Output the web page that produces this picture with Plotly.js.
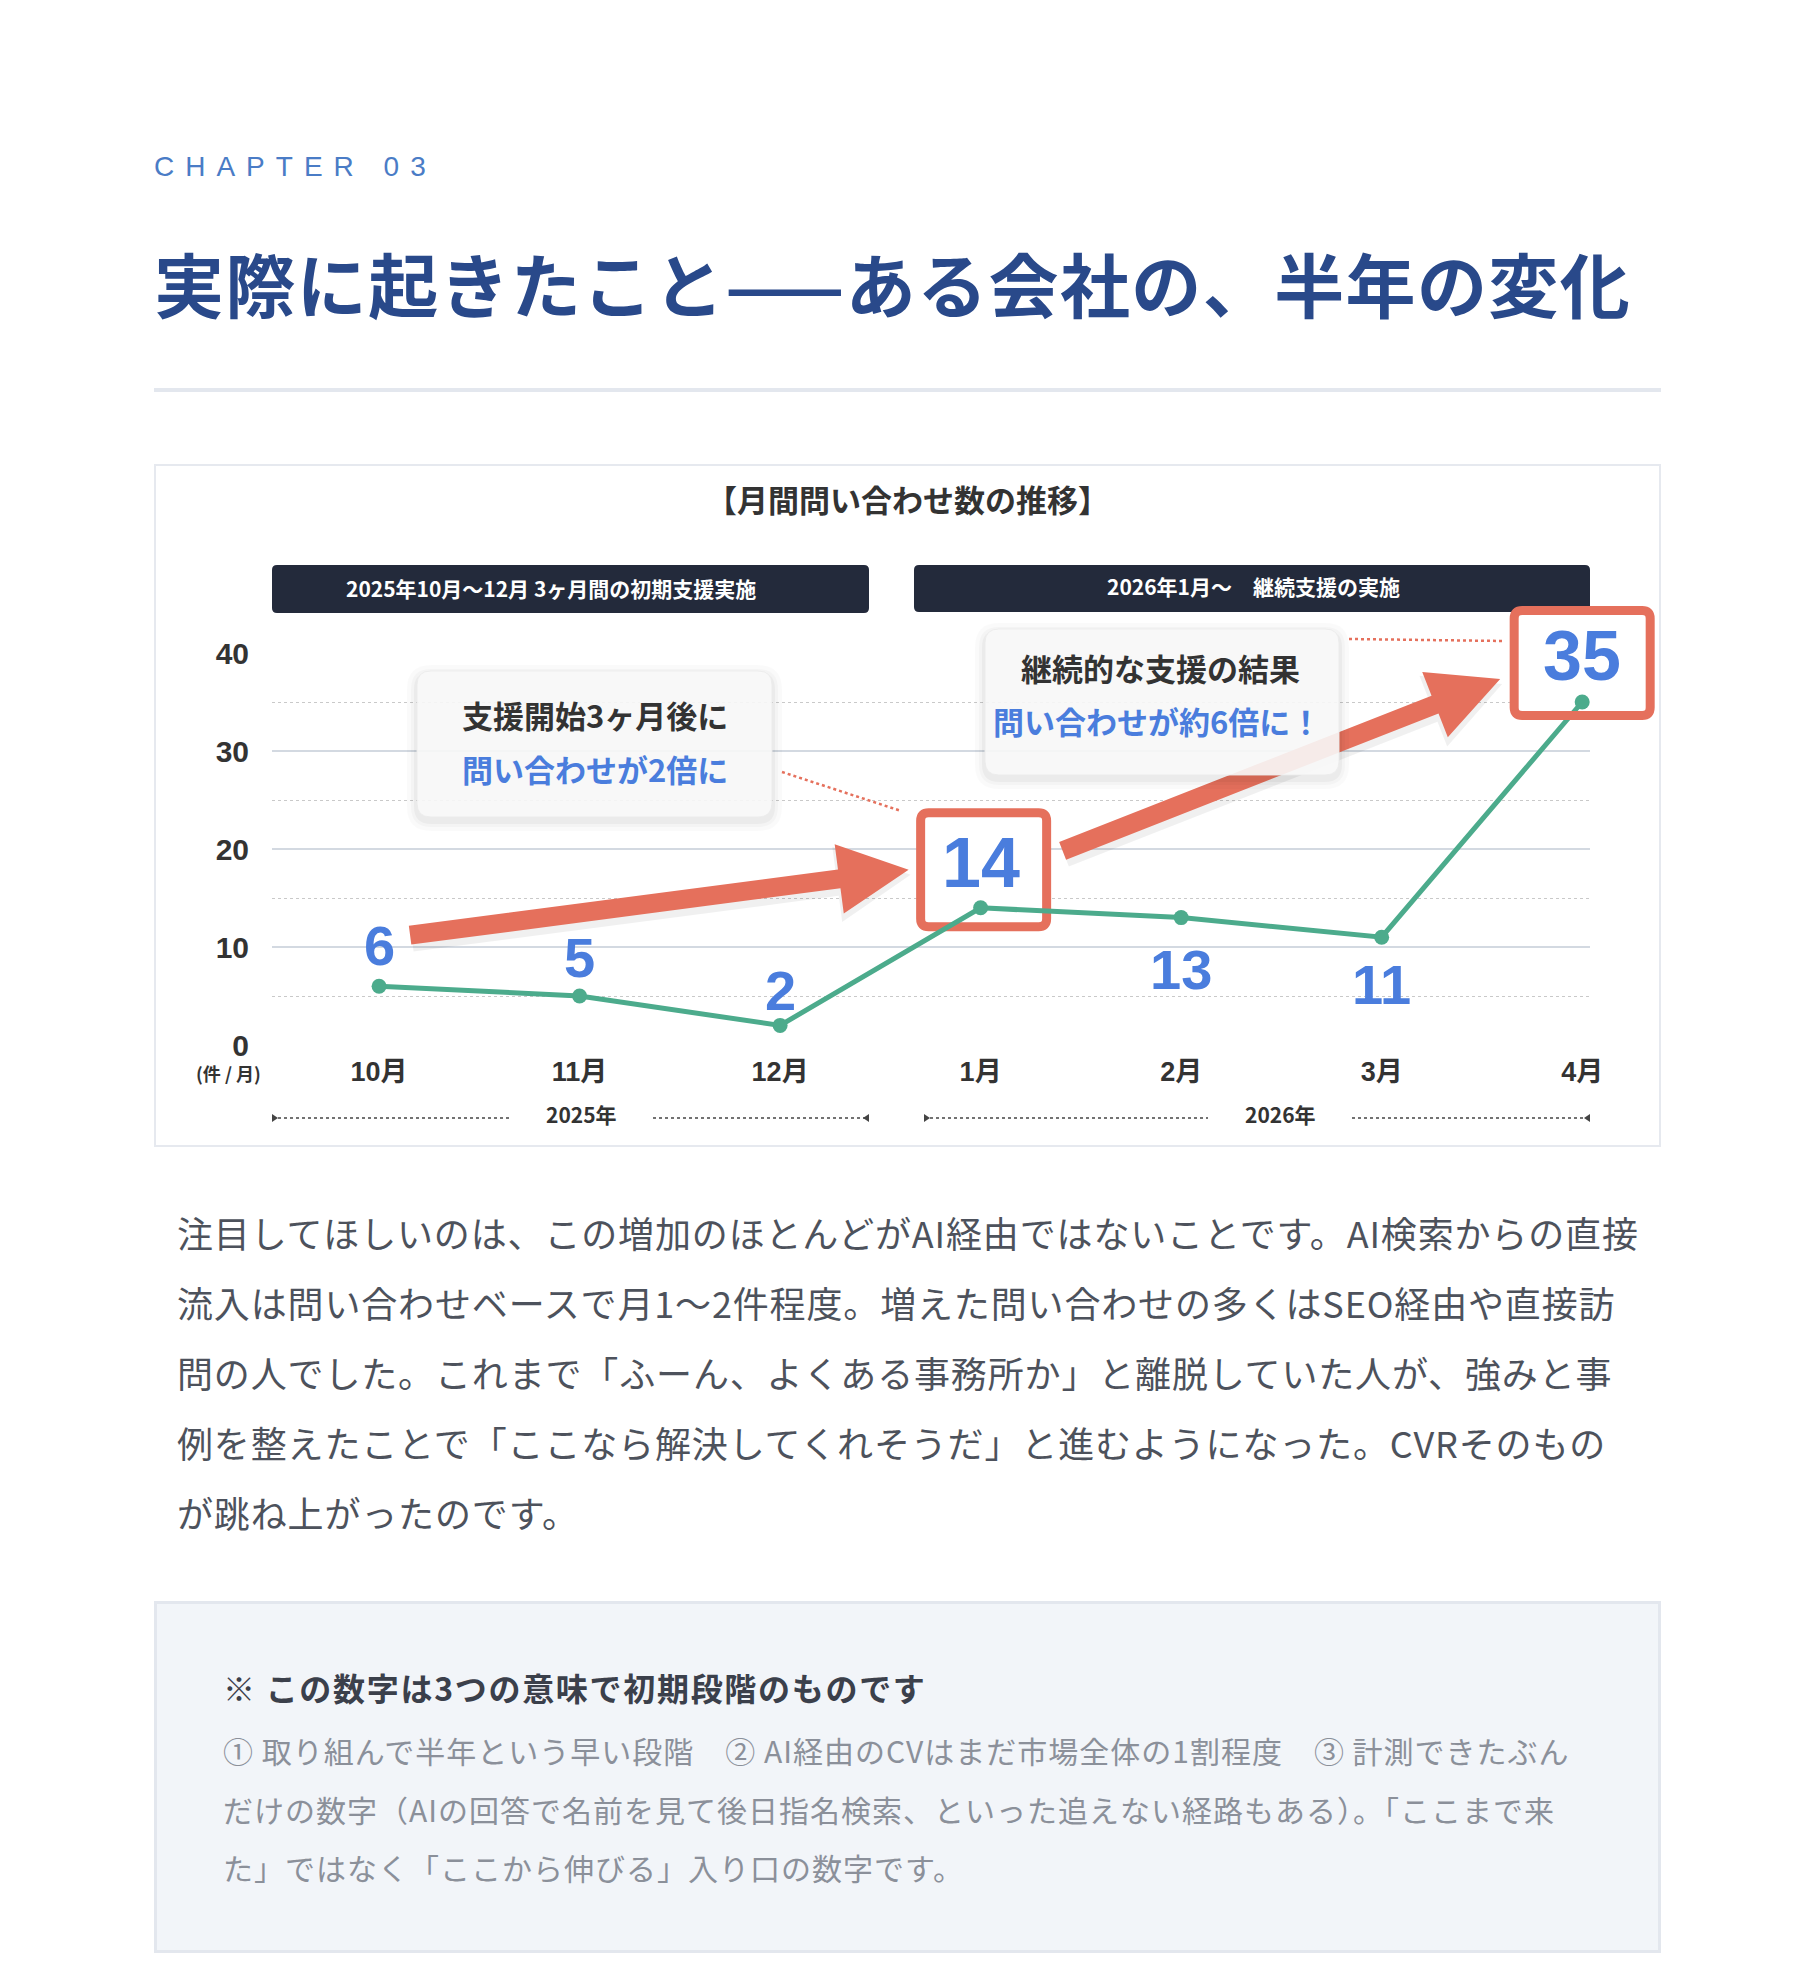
<!DOCTYPE html>
<html><head><meta charset="utf-8">
<script src="https://cdn.plot.ly/plotly-3.0.1.min.js"></script>
<style>
html,body{margin:0;padding:0;background:#fff;}
body{width:1816px;height:1968px;position:relative;overflow:hidden;font-family:"Noto Sans CJK JP","Noto Sans",sans-serif;}
.abs{position:absolute;white-space:nowrap;}
#chap{left:154px;top:147px;line-height:40px;font-size:28px;letter-spacing:11px;color:#4a7cc6;font-family:"Liberation Sans","Noto Sans CJK JP",sans-serif;}
#title{left:154px;top:243px;line-height:80px;font-size:70px;font-weight:700;color:#29498a;letter-spacing:1.4px;}
#hr{left:154px;top:388px;width:1507px;height:4px;background:#e3e7ee;}
#box{left:154px;top:464px;width:1503px;height:679px;border:2px solid #e6e9ef;background:#fff;}
#chart{left:154px;top:464px;width:1507px;height:683px;}
#body{left:177px;top:1197px;font-size:36px;line-height:70px;letter-spacing:0.85px;color:#4d525c;}
#note{left:154px;top:1601px;width:1501px;height:346px;background:#f2f5f9;border:3px solid #e3e7ee;}
#ntitle{left:223px;top:1667px;font-size:32px;line-height:40px;font-weight:700;color:#3b404b;letter-spacing:1.7px;}
#ntext{left:223px;top:1721px;font-size:30px;line-height:58.5px;color:#8b909a;letter-spacing:1.0px;}
</style></head>
<body>
<div id="chap" class="abs">CHAPTER 03</div>
<div id="title" class="abs">実際に起きたこと——ある会社の、半年の変化</div>
<div id="hr" class="abs"></div>
<div id="box" class="abs"></div>
<div id="chart" class="abs"></div>
<div id="body" class="abs">注目してほしいのは、この増加のほとんどがAI経由ではないことです。AI検索からの直接<br>流入は問い合わせベースで月1〜2件程度。増えた問い合わせの多くはSEO経由や直接訪<br>問の人でした。これまで「ふーん、よくある事務所か」と離脱していた人が、強みと事<br>例を整えたことで「ここなら解決してくれそうだ」と進むようになった。CVRそのもの<br>が跳ね上がったのです。</div>
<div id="note" class="abs"></div>
<div id="ntitle" class="abs">※ この数字は3つの意味で初期段階のものです</div>
<div id="ntext" class="abs">① 取り組んで半年という早い段階　② AI経由のCVはまだ市場全体の1割程度　③ 計測できたぶん<br>だけの数字（AIの回答で名前を見て後日指名検索、といった追えない経路もある）。「ここまで来<br>た」ではなく「ここから伸びる」入り口の数字です。</div>
<script>
// ---- data ----
const months = ['10月','11月','12月','1月','2月','3月','4月'];
const inquiries = [6, 5, 2, 14, 13, 11, 35];
const yTicks = [0, 10, 20, 30, 40];
const chartTitle = '【月間問い合わせ数の推移】';
const phases = ['2025年10月〜12月 3ヶ月間の初期支援実施', '2026年1月〜　継続支援の実施'];
const years = ['2025年', '2026年'];
const callout1 = ['支援開始3ヶ月後に', '問い合わせが2倍に'];
const callout2 = ['継続的な支援の結果', '問い合わせが約6倍に！'];
const unitLabel = '(件 / 月)';
const highlighted = [3, 6];

// ---- geometry / style ----
const DIVW = 1507, DIVH = 683;
const M = {l:118, r:71, t:189, b:102};
const W = DIVW - M.l - M.r, H = DIVH - M.t - M.b;
const OX = 154 + M.l, OY = 464 + M.t;          // page px of plot top-left
const XR = [-0.534, 6.039], YR = [0, 40];
const RED = '#e5705c', BLUE = '#4a7ddd', GREEN = '#4cab8c', DARK = '#333333';
const X = p => (p - OX) / W;                  // page px -> paper
const Y = p => 1 - (p - OY) / H;
const ptX = i => OX + (i - XR[0]) / (XR[1] - XR[0]) * W;
const ptY = v => OY + (1 - (v - YR[0]) / (YR[1] - YR[0])) * H;
const f = n => n.toFixed(5);

function rrect(x0, y0, x1, y1, r) {
  const P = (x, y) => f(X(x)) + ',' + f(Y(y));
  return 'M' + P(x0 + r, y0) + ' L' + P(x1 - r, y0) + ' Q' + P(x1, y0) + ' ' + P(x1, y0 + r) +
    ' L' + P(x1, y1 - r) + ' Q' + P(x1, y1) + ' ' + P(x1 - r, y1) +
    ' L' + P(x0 + r, y1) + ' Q' + P(x0, y1) + ' ' + P(x0, y1 - r) +
    ' L' + P(x0, y0 + r) + ' Q' + P(x0, y0) + ' ' + P(x0 + r, y0) + ' Z';
}
// rounded rect in pixel offsets (y up) around anchor
function rrectPix(cx, cy, w, h, r) {
  const x0 = cx - w/2, x1 = cx + w/2, yT = -(cy - h/2), yB = -(cy + h/2);
  const P = (x, y) => x.toFixed(2) + ',' + y.toFixed(2);
  return 'M' + P(x0 + r, yT) + ' L' + P(x1 - r, yT) + ' Q' + P(x1, yT) + ' ' + P(x1, yT - r) +
    ' L' + P(x1, yB + r) + ' Q' + P(x1, yB) + ' ' + P(x1 - r, yB) +
    ' L' + P(x0 + r, yB) + ' Q' + P(x0, yB) + ' ' + P(x0, yB + r) +
    ' L' + P(x0, yT - r) + ' Q' + P(x0, yT) + ' ' + P(x0 + r, yT) + ' Z';
}
function arrowPath(sx, sy, tx, ty, shaft, headLen, headW) {
  const ddx = tx - sx, ddy = ty - sy, L = Math.hypot(ddx, ddy);
  const ux = ddx / L, uy = ddy / L, nx = -uy, ny = ux;
  const bx = tx - ux * headLen, by = ty - uy * headLen, h = shaft / 2, hw = headW / 2;
  const pts = [[sx + nx*h, sy + ny*h], [bx + nx*h, by + ny*h], [bx + nx*hw, by + ny*hw], [tx, ty],
    [bx - nx*hw, by - ny*hw], [bx - nx*h, by - ny*h], [sx - nx*h, sy - ny*h]];
  return 'M' + pts.map(p => f(X(p[0])) + ',' + f(Y(p[1]))).join(' L') + ' Z';
}

const shapes = [];
const annotations = [];

// phase banners
const bannerBoxes = [[272, 565, 869, 613], [914, 565, 1590, 612]];
const bannerText = [[551, 588], [1253, 586]];
bannerBoxes.forEach((b, k) => {
  shapes.push({type:'path', xref:'paper', yref:'paper', path: rrect(b[0], b[1], b[2], b[3], 5),
    fillcolor:'#232a3b', line:{width:0}, layer:'above'});
  annotations.push({xref:'paper', yref:'paper', x: X(bannerText[k][0]), y: Y(bannerText[k][1]),
    text: phases[k], showarrow:false, xanchor:'center', yanchor:'middle',
    font:{family:'Noto Sans CJK JP', size:21, color:'#ffffff', weight:700}});
});

// year brackets
const yearGroups = [[272, 869, 581], [924, 1590, 1280]];
const yLine = 1118;
yearGroups.forEach((g, k) => {
  [[g[0], g[2] - 72], [g[2] + 72, g[1]]].forEach(seg => {
    shapes.push({type:'line', xref:'paper', yref:'paper', x0: X(seg[0]), x1: X(seg[1]), y0: Y(yLine), y1: Y(yLine),
      line:{color:'#444', width:1.6, dash:'dot'}});
  });
  shapes.push({type:'path', xref:'paper', yref:'paper',
    path:'M' + f(X(g[0])) + ',' + f(Y(yLine - 4)) + ' L' + f(X(g[0] + 6)) + ',' + f(Y(yLine)) + ' L' + f(X(g[0])) + ',' + f(Y(yLine + 4)) + ' Z',
    fillcolor:'#444', line:{width:0}});
  shapes.push({type:'path', xref:'paper', yref:'paper',
    path:'M' + f(X(g[1])) + ',' + f(Y(yLine - 4)) + ' L' + f(X(g[1] - 6)) + ',' + f(Y(yLine)) + ' L' + f(X(g[1])) + ',' + f(Y(yLine + 4)) + ' Z',
    fillcolor:'#444', line:{width:0}});
  annotations.push({xref:'paper', yref:'paper', x: X(g[2]), y: Y(1114), text: years[k], showarrow:false,
    xanchor:'center', yanchor:'middle', font:{family:'Noto Sans CJK JP', size:21, color:DARK, weight:700}});
});

// highlight boxes around selected points
const boxSpec = {3:{cx:3, cy:-38, w:126, h:114, borderAbove:false}, 6:{cx:0, cy:-39, w:136, h:105, borderAbove:true}};
highlighted.forEach(i => {
  const s = boxSpec[i];
  // white fill between grid and trace
  shapes.push({type:'path', xref:'x', yref:'y', xsizemode:'pixel', ysizemode:'pixel',
    xanchor: months[i], yanchor: inquiries[i], path: rrectPix(s.cx, s.cy, s.w, s.h, 8),
    fillcolor:'#ffffff', line: s.borderAbove ? {width:0} : {color:RED, width:9}, layer:'between'});
  if (s.borderAbove) {
    const cx = ptX(i) + s.cx, cy = ptY(inquiries[i]) + s.cy;
    shapes.push({type:'path', xref:'paper', yref:'paper',
      path: rrect(cx - s.w/2, cy - s.h/2, cx + s.w/2, cy + s.h/2, 8),
      fillcolor:'rgba(0,0,0,0)', line:{color:RED, width:9}, layer:'above'});
  }
});

// arrows
const a1 = [ptX(0) + 31, ptY(inquiries[0]) - 51, ptX(3) - 72, ptY(inquiries[3]) - 38];
const a2 = [ptX(3) + 82, ptY(inquiries[3]) - 57, ptX(6) - 82, ptY(inquiries[6]) - 23];
[a1, a2].forEach(a => {
  shapes.push({type:'path', xref:'paper', yref:'paper', path: arrowPath(a[0] + 2, a[1] + 5, a[2] + 2, a[3] + 5, 23, 74, 76),
    fillcolor:'rgba(0,0,0,0.06)', line:{width:0}, layer:'above'});
  shapes.push({type:'path', xref:'paper', yref:'paper', path: arrowPath(a[0], a[1], a[2], a[3], 19, 70, 70),
    fillcolor:RED, line:{width:0}, layer:'above'});
});

// callouts
const cBoxes = [[417, 671, 772, 817], [985, 629, 1339, 775]];
cBoxes.forEach((b, k) => {
  [[10, 0.018], [6, 0.025], [3, 0.035]].forEach(s => {
    shapes.push({type:'path', xref:'paper', yref:'paper', path: rrect(b[0] - s[0], b[1] - s[0] + 4, b[2] + s[0], b[3] + s[0] + 4, 14 + s[0]),
      fillcolor:'rgba(0,0,0,' + s[1] + ')', line:{width:0}, layer:'above'});
  });
  shapes.push({type:'path', xref:'paper', yref:'paper', path: rrect(b[0], b[1], b[2], b[3], 14),
    fillcolor:'rgba(249,249,249,0.9)', line:{color:'rgba(235,235,235,0.9)', width:1}, layer:'above'});
});
const cText = [[[595, 714], [595, 768]], [[1160, 668], [1157, 720]]];
[callout1, callout2].forEach((c, k) => {
  c.forEach((t, j) => {
    annotations.push({xref:'paper', yref:'paper', x: X(cText[k][j][0]), y: Y(cText[k][j][1]), text: t,
      showarrow:false, xanchor:'center', yanchor:'middle',
      font:{family:'Noto Sans CJK JP', size:31, color: j === 0 ? DARK : BLUE, weight:700}});
  });
});

// dotted connectors
const c1 = [782, 772, ptX(3) - 80, ptY(inquiries[3]) - 97];
const c2 = [1349, 639, ptX(6) - 79, ptY(inquiries[6]) - 61];
[c1, c2].forEach(c => shapes.push({type:'line', xref:'paper', yref:'paper', x0: X(c[0]), y0: Y(c[1]), x1: X(c[2]), y1: Y(c[3]),
  line:{color:RED, width:2.5, dash:'dot'}, layer:'above'}));

// value labels
const labelShift = [41, 39, 35, 45, -52, -47, 46];
inquiries.forEach((v, i) => {
  const big = highlighted.includes(i);
  annotations.push({xref:'x', yref:'y', x: months[i], y: v, yshift: labelShift[i], text: String(v),
    showarrow:false, xanchor:'center', yanchor:'middle',
    font:{family:'Liberation Sans, Arial, sans-serif', size: big ? 70 : 56, color:BLUE, weight:700}});
});

// unit label
annotations.push({xref:'paper', yref:'paper', x: X(228), y: Y(1073), text: unitLabel, showarrow:false,
  xanchor:'center', yanchor:'middle', font:{family:'Noto Sans CJK JP', size:18, color:DARK, weight:700}});

const trace = {x: months, y: inquiries, type:'scatter', mode:'lines+markers', cliponaxis:false,
  line:{color:GREEN, width:5}, marker:{color:GREEN, size:15}, hoverinfo:'skip'};

const layout = {
  width: DIVW, height: DIVH, margin: M,
  paper_bgcolor:'rgba(0,0,0,0)', plot_bgcolor:'rgba(0,0,0,0)', showlegend:false,
  title:{text: chartTitle, x:0.5, xref:'container', y: 1 - 37/DIVH, yref:'container', xanchor:'center', yanchor:'middle',
    font:{family:'Noto Sans CJK JP', size:31, color:DARK, weight:700}},
  xaxis:{type:'category', range: XR, showgrid:false, zeroline:false, showline:false, ticks:'',
    ticklabelstandoff: 8, tickfont:{family:'Liberation Sans, Noto Sans CJK JP', size:27, color:DARK, weight:700}},
  yaxis:{range: YR, tickvals: yTicks, showgrid:true, gridcolor:'#d3d9e1', gridwidth:1.6, zeroline:false, showline:false,
    ticks:'', ticklabelstandoff: 22, tickfont:{family:'Liberation Sans, Noto Sans CJK JP', size:30, color:DARK, weight:700},
    minor:{dtick:5, tick0:0, showgrid:true, gridcolor:'#c9c9c9', gridwidth:1, griddash:'dot'}},
  shapes: shapes, annotations: annotations
};
Plotly.newPlot('chart', [trace], layout, {staticPlot:true, displayModeBar:false});
</script>
</body></html>
